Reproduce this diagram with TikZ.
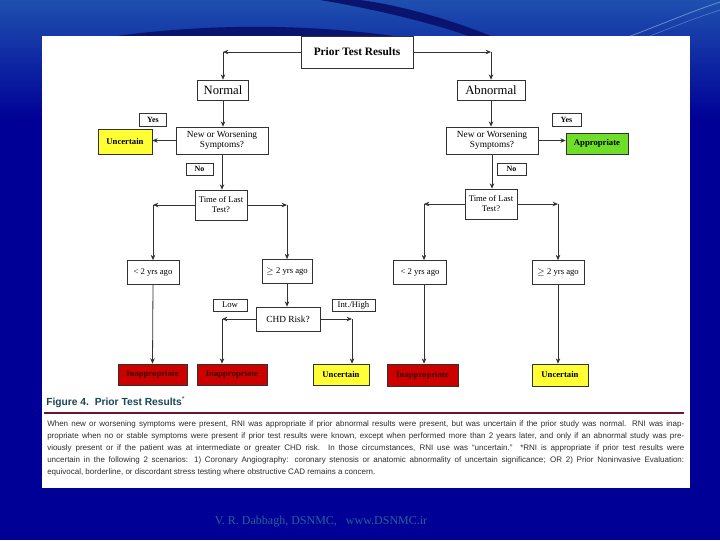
\documentclass[tikz,border=0pt]{standalone}
\usepackage{fontspec}
\setmainfont{Liberation Serif}
\setsansfont{Liberation Sans}
\usetikzlibrary{arrows.meta}
\definecolor{bgblue}{RGB}{0,0,150}
\definecolor{topblue}{RGB}{30,80,175}
\definecolor{navy}{RGB}{10,20,110}
\definecolor{redbox}{RGB}{205,0,0}
\definecolor{yelbox}{RGB}{255,255,51}
\definecolor{grnbox}{RGB}{110,222,40}
\definecolor{capcol}{RGB}{25,70,85}
\definecolor{rulecol}{RGB}{110,20,45}
\definecolor{parcol}{RGB}{45,45,45}
\definecolor{footcol}{RGB}{35,100,150}
\definecolor{edge}{RGB}{50,50,50}
\definecolor{redtext}{RGB}{60,0,0}
\tikzset{
  wh/.style 2 args={minimum width=#1*0.75pt, minimum height=#2*0.75pt},
  box/.style={draw=edge, line width=0.5pt, fill=white, inner sep=0pt, align=center,
    font=\fontsize{7}{8}\selectfont},
  lab/.style={box, font=\bfseries\fontsize{6}{7}\selectfont},
  lab2/.style={box, font=\fontsize{6.5}{7}\selectfont},
  outc/.style={box, font=\bfseries\fontsize{6.5}{7}\selectfont},
  redout/.style={outc, fill=redbox, text=redtext},
  arr/.style={draw=edge, line width=0.6pt, -{Stealth[length=4pt,width=3.4pt]}},
  parline/.style={anchor=west, inner sep=0pt, text=parcol, font=\sffamily\fontsize{6}{7}\selectfont}
}
\begin{document}
\begin{tikzpicture}[x=0.75pt,y=-0.75pt]
\useasboundingbox (0,0) rectangle (720,540);
% background
\fill[bgblue] (0,0) rectangle (720,540);
\shade[top color=topblue, bottom color=bgblue] (0,0) rectangle (720,120);
\fill[navy] (90,40) .. controls (180,25) and (300,20) .. (420,40) -- cycle;
\fill[navy] (320,0) .. controls (380,10) and (440,25) .. (480,40) -- (500,40) .. controls (460,22) and (400,5) .. (360,0) -- cycle;
\draw[white!60!topblue, line width=0.6pt, opacity=0.6] (620,40) .. controls (660,25) and (690,12) .. (720,2);
\draw[white!60!topblue, line width=0.4pt, opacity=0.5] (640,40) .. controls (670,28) and (695,18) .. (720,10);
% white panel
\fill[white] (42,36) rectangle (690,488);

% nodes
\node[box, wh={112}{32}, font=\bfseries\fontsize{8.5}{10}\selectfont] (prior) at (357,52) {Prior Test Results};
\node[box, wh={51}{20}, font=\fontsize{9.5}{11}\selectfont] (normal) at (223,90) {Normal};
\node[box, wh={68}{20}, font=\fontsize{9.5}{11}\selectfont] (abnormal) at (491,90) {Abnormal};
\node[box, wh={92}{27}] (nwsL) at (222,140.5) {New or Worsening\\Symptoms?};
\node[box, wh={92}{27}] (nwsR) at (492,140.5) {New or Worsening\\Symptoms?};
\node[lab, wh={27}{13}] (yesL) at (153,119.5) {Yes};
\node[lab, wh={29}{13}] (yesR) at (566.5,119.5) {Yes};
\node[outc, fill=yelbox, wh={54}{25}] (uncL) at (125,141.5) {Uncertain};
\node[outc, fill=grnbox, wh={62}{21}] (appR) at (597,143.5) {Appropriate};
\node[lab, wh={27}{12}] (noL) at (199.5,169) {No};
\node[lab, wh={29}{12}] (noR) at (511.5,169) {No};
\node[box, wh={52}{30}, font=\fontsize{6.5}{7.5}\selectfont] (tltL) at (221,205) {Time of Last\\Test?};
\node[box, wh={52}{30}, font=\fontsize{6.5}{7.5}\selectfont] (tltR) at (491,204) {Time of Last\\Test?};
\node[lab2, wh={52}{24}] (lt2L) at (153,272.5) {< 2 yrs ago};
\node[lab2, wh={50}{24}] (ge2L) at (287,271.5) {$\geq$ 2 yrs ago};
\node[lab2, wh={53}{24}] (lt2R) at (420,272.5) {< 2 yrs ago};
\node[lab2, wh={52}{24}] (ge2R) at (558,272.5) {$\geq$ 2 yrs ago};
\node[box, wh={64}{24}] (chd) at (288,319) {CHD Risk?};
\node[lab2, wh={34}{12}] (low) at (230,305) {Low};
\node[lab2, wh={43}{12}] (inth) at (353.5,305) {Int./High};
\node[redout, wh={69}{21}] (inap1) at (152.5,374.5) {Inappropriate};
\node[redout, wh={70}{21}] (inap2) at (232,374.5) {Inappropriate};
\node[outc, fill=yelbox, wh={56}{21}] (uncB1) at (341,374.5) {Uncertain};
\node[redout, wh={71}{22}] (inap3) at (422.5,375) {Inappropriate};
\node[outc, fill=yelbox, wh={56}{22}] (uncB2) at (560,375) {Uncertain};

% corner coordinates
\coordinate (cL) at (223,52);
\coordinate (cR) at (491,52);
\coordinate (tlL) at (153,205);
\coordinate (tlR) at (287,205);
\coordinate (trL) at (424,204);
\coordinate (trR) at (558,204);
\coordinate (chL) at (222,319);
\coordinate (chR) at (352,319);

% connectors
\draw[arr] (prior.west) -- (cL);
\draw[arr] (cL) -- (normal.north);
\draw[arr] (prior.east) -- (cR);
\draw[arr] (cR) -- (abnormal.north);
\draw[arr] (normal.south) -- (normal.south |- nwsL.north);
\draw[arr] (abnormal.south) -- (abnormal.south |- nwsR.north);
\draw[arr] (nwsL.west) -- (nwsL.west -| uncL.east);
\draw[arr] (nwsR.east) -- (nwsR.east -| appR.west);
\draw[arr] (nwsL.south) -- (nwsL.south |- tltL.north);
\draw[arr] (nwsR.south) -- (nwsR.south |- tltR.north);
\draw[arr] (tltL.west) -- (tlL);
\draw[arr] (tlL) -- (lt2L.north);
\draw[arr] (tltL.east) -- (tlR);
\draw[arr] (tlR) -- (ge2L.north);
\draw[arr] (tltR.west) -- (trL);
\draw[arr] (trL) -- (trL |- lt2R.north);
\draw[arr] (tltR.east) -- (trR);
\draw[arr] (trR) -- (ge2R.north);
\draw[arr] (lt2L.south) -- (inap1.north);
\draw[arr] (ge2L.south) -- (ge2L.south |- chd.north);
\draw[arr] (chd.west) -- (chL);
\draw[arr] (chL) -- (chL |- inap2.north);
\draw[arr] (chd.east) -- (chR);
\draw[arr] (chR) -- (chR |- uncB1.north);
\draw[arr] (trL |- lt2R.south) -- (trL |- inap3.north);
\draw[arr] (ge2R.south) -- (ge2R.south |- uncB2.north);

% caption
\node[anchor=west, inner sep=0pt, text=capcol, font=\sffamily\bfseries\fontsize{7.7}{9}\selectfont] (figcap) at (46,402) {Figure 4.\ \ Prior Test Results\textsuperscript{\mdseries *}};
\draw[rulecol, line width=0.8pt] (44,413) -- (684,413);
\node[parline] (p1) at (47,424) {\makebox[477.75pt][s]{When new or worsening symptoms were present, RNI was appropriate if prior abnormal results were present, but was uncertain if the prior study was normal. RNI was inap-}};
\node[parline] (p2) at (47,436) {\makebox[477.75pt][s]{propriate when no or stable symptoms were present if prior test results were known, except when performed more than 2 years later, and only if an abnormal study was pre-}};
\node[parline] (p3) at (47,448) {\makebox[477.75pt][s]{viously present or if the patient was at intermediate or greater CHD risk. In those circumstances, RNI use was “uncertain.” *RNI is appropriate if prior test results were}};
\node[parline] (p4) at (47,460) {\makebox[477.75pt][s]{uncertain in the following 2 scenarios: 1) Coronary Angiography: coronary stenosis or anatomic abnormality of uncertain significance; OR 2) Prior Noninvasive Evaluation:}};
\node[parline] (p5) at (47,472) {equivocal, borderline, or discordant stress testing where obstructive CAD remains a concern.};

% footer
\node[inner sep=0pt, text=footcol, font=\fontsize{9}{10}\selectfont] (foot) at (321,522) {V. R. Dabbagh, DSNMC,\ \ \ www.DSNMC.ir};
\end{tikzpicture}
\end{document}
